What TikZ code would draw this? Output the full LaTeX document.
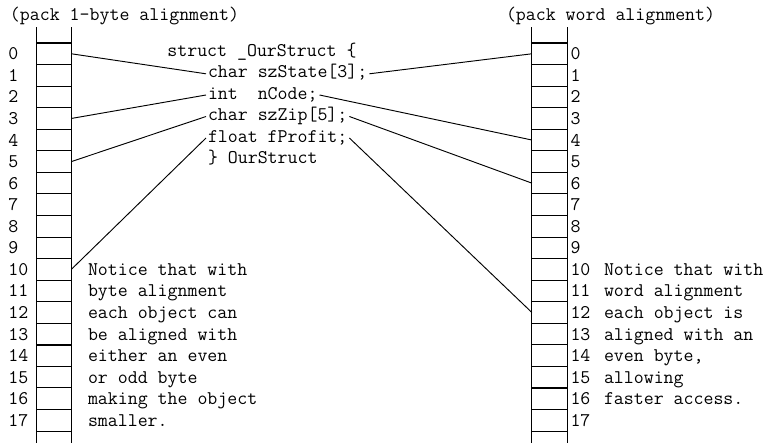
\documentclass[tikz,border=0pt]{standalone}
\usepackage{fontspec}
\usepackage{tikz}
\usetikzlibrary{positioning}

\begin{document}
\begin{tikzpicture}[
        x=0.75pt, y=-0.75pt,
        every node/.style={font=\ttfamily\fontsize{14.5}{16}\selectfont, inner sep=0pt, outer sep=0pt},
        cell/.style={rectangle, draw, line width=0.8pt, minimum width=26.4pt, minimum height=16.17pt},
        colline/.style={line width=0.8pt},
        thickline/.style={line width=1.7pt},
        member/.style={anchor=west, inner xsep=1.5pt, text height=9pt, text depth=3pt},
        num/.style={anchor=base west},
        note/.style={anchor=base west},
        link/.style={line width=0.7pt}
        ]
        \useasboundingbox (0,0) rectangle (769,443);

        % Titles
        \node[anchor=base west] (ltitle) at (10, 20) {(pack 1-byte alignment)};
        \node[anchor=base west] (rtitle) at (506, 20) {(pack word alignment)};

        % Memory columns, one cell per byte
        \foreach \k in {0,...,17} {
            \node[cell] (L\k) at (53.75, {53.78+21.56*\k}) {};
            \node[cell] (R\k) at (549.5, {53.78+21.56*\k}) {};
            \node[num] (ln\k) at (8.5, {59.8+21.56*\k}) {\k};
            \node[num] (rn\k) at (570.5, {59.8+21.56*\k}) {\k};
        }
        \foreach \c in {L,R} {
            \draw[colline] (\c0.north west) -- ++(0,-16);
            \draw[colline] (\c0.north east) -- ++(0,-16);
            \draw[colline] (\c17.south west) -- ++(0,14);
            \draw[colline] (\c17.south east) -- ++(0,14);
            \draw[thickline] (\c0.north west) -- (\c0.north east);
        }
        \draw[thickline] (L14.north west) -- (L14.north east);
        \draw[thickline] (R16.north west) -- (R16.north east);

        % The structure
        \node[member] (head) at (165.4, 52.7) {struct \_OurStruct \{};
        \node[member] (state) at (206, 73.8) {char szState[3];};
        \node[member] (code) at (206, 95) {int\ \ nCode;};
        \node[member] (zip) at (206, 116.5) {char szZip[5];};
        \node[member] (profit) at (206, 138) {float fProfit;};
        \node[member] (tail) at (206, 159.5) {\} OurStruct};

        % Notes
        \foreach \t [count=\k from 10] in {Notice that with, byte alignment, each object can, be aligned with, either an even, or odd byte, making the object, smaller.}
            \node[note] (nl\k) at (88, {59.8+21.56*\k}) {\t};
        \foreach \t [count=\k from 10] in {Notice that with, word alignment, each object is, aligned with an, {even byte,}, allowing, faster access.}
            \node[note] (nr\k) at (604, {59.8+21.56*\k}) {\t};

        % Connections
        \draw[link] (L0.east) -- (state.west);
        \draw[link] (L3.east) -- (code.west);
        \draw[link] (L5.east) -- (zip.west);
        \draw[link] (L10.east) -- (profit.west);
        \draw[link] (state.east) -- (R0.west);
        \draw[link] (code.east) -- (R4.west);
        \draw[link] (zip.east) -- (R6.west);
        \draw[link] (profit.east) -- (R12.west);

    \end{tikzpicture}
\end{document}
